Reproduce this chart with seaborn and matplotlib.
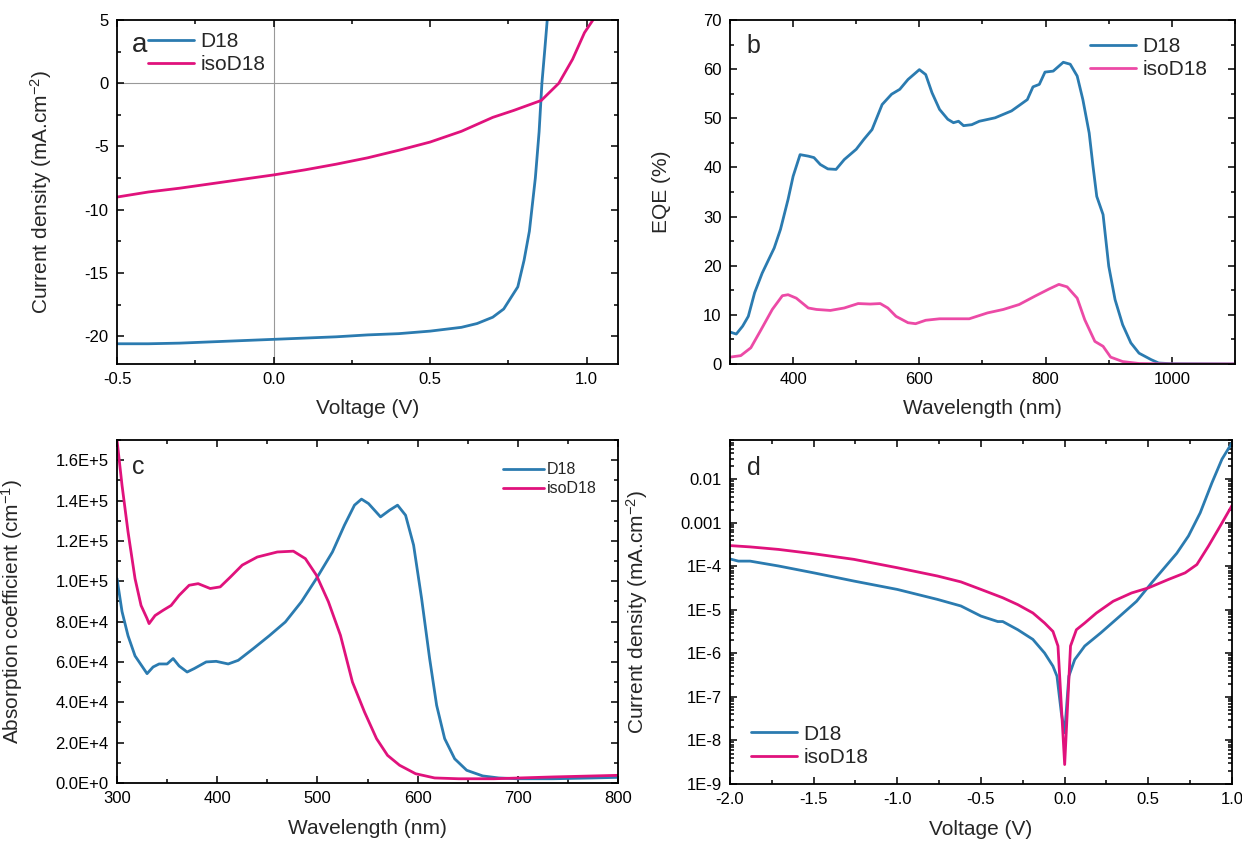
import numpy as np
import pandas as pd
import seaborn as sns
import matplotlib
matplotlib.use("Agg")
import matplotlib.pyplot as plt
from matplotlib.ticker import MultipleLocator, FuncFormatter, LogLocator, NullFormatter

# ── Data ─────────────────────────────────────────────────────────────────────
# a: J-V curves
jv_v_d18 = [-0.5, -0.4, -0.3, -0.2, -0.1, 0.0, 0.1, 0.2, 0.3, 0.4, 0.5, 0.6, 0.65,
            0.7, 0.735, 0.78, 0.8, 0.817, 0.836, 0.848, 0.857, 0.866, 0.874]
jv_j_d18 = [-20.6, -20.6, -20.55, -20.45, -20.35, -20.25, -20.15, -20.05, -19.9,
            -19.8, -19.6, -19.3, -19.0, -18.5, -17.85, -16.1, -14.0, -11.7, -7.5,
            -3.85, 0.0, 2.6, 5.0]
jv_v_iso = [-0.5, -0.4, -0.3, -0.2, -0.1, 0.0, 0.1, 0.2, 0.3, 0.4, 0.5, 0.6, 0.7,
            0.767, 0.855, 0.911, 0.955, 0.993, 1.02]
jv_j_iso = [-9.0, -8.6, -8.3, -7.95, -7.6, -7.25, -6.85, -6.4, -5.9, -5.3, -4.65,
            -3.8, -2.7, -2.15, -1.36, 0.0, 1.9, 4.0, 5.0]

# b: EQE spectra
eqe_nm_d18 = [300, 310, 320, 329, 339, 351, 370, 380, 392, 400, 411, 424, 433, 443,
              455, 468, 481, 500, 512, 525, 541, 556, 569, 582, 600, 610, 620, 632,
              645, 654, 662, 670, 683, 695, 720, 746, 758, 771, 780, 790, 799, 812,
              828, 839, 850, 859, 869, 875, 881, 891, 900, 910, 922, 935, 948, 967,
              979, 1000, 1100]
eqe_d18 = [6.5, 6.1, 7.7, 9.7, 14.5, 18.5, 23.6, 27.4, 33.5, 38.2, 42.6, 42.3, 42.0,
           40.6, 39.7, 39.6, 41.6, 43.7, 45.7, 47.7, 52.8, 54.9, 55.9, 57.9, 59.9,
           58.9, 55.2, 51.8, 49.8, 49.1, 49.4, 48.5, 48.7, 49.4, 50.1, 51.5, 52.6,
           53.8, 56.4, 56.9, 59.4, 59.6, 61.4, 61.0, 58.6, 53.8, 47.0, 40.3, 34.1,
           30.4, 19.9, 13.1, 8.0, 4.3, 2.2, 0.9, 0.2, 0.05, 0.0]
eqe_nm_iso = [300, 317, 333, 348, 367, 383, 392, 405, 424, 437, 459, 481, 503, 522,
              538, 550, 563, 582, 594, 610, 632, 657, 679, 708, 733, 758, 783, 806,
              821, 834, 850, 862, 878, 891, 903, 922, 948, 1000, 1100]
eqe_iso = [1.4, 1.7, 3.3, 6.7, 11.1, 13.9, 14.1, 13.4, 11.4, 11.1, 10.9, 11.4, 12.3,
           12.2, 12.3, 11.4, 9.7, 8.4, 8.2, 8.9, 9.2, 9.2, 9.2, 10.4, 11.1, 12.1, 13.8,
           15.3, 16.2, 15.7, 13.4, 9.0, 4.6, 3.6, 1.4, 0.5, 0.1, 0.0, 0.0]

# c: absorption coefficient (cm-1), in units of 1E+4
abs_nm_d18 = [300, 305, 311, 318, 330, 336, 342, 350, 356, 362, 370, 377, 389, 399,
              411, 421, 436, 452, 468, 484, 499, 515, 527, 537, 544, 551, 563, 572,
              580, 588, 596, 604, 612, 619, 627, 637, 649, 665, 681, 700, 735, 775, 800]
abs_d18 = [10.13, 8.5, 7.3, 6.3, 5.42, 5.75, 5.9, 5.9, 6.17, 5.8, 5.5, 5.67, 6.0,
           6.03, 5.9, 6.08, 6.66, 7.3, 7.98, 8.98, 10.13, 11.45, 12.78, 13.77, 14.07,
           13.85, 13.19, 13.52, 13.77, 13.27, 11.79, 9.14, 6.17, 3.85, 2.2, 1.2, 0.63,
           0.35, 0.25, 0.21, 0.21, 0.25, 0.28]
abs_nm_iso = [300, 305, 311, 318, 324, 330, 332, 338, 346, 354, 362, 372, 381, 393,
              403, 413, 425, 440, 460, 476, 488, 499, 511, 523, 535, 547, 559, 570,
              582, 598, 617, 641, 676, 735, 800]
abs_iso = [17.0, 14.76, 12.45, 10.13, 8.8, 8.15, 7.9, 8.3, 8.56, 8.8, 9.3, 9.8, 9.88,
           9.64, 9.72, 10.2, 10.8, 11.2, 11.45, 11.49, 11.12, 10.3, 8.98, 7.32, 5.0,
           3.52, 2.2, 1.37, 0.88, 0.46, 0.25, 0.21, 0.21, 0.3, 0.38]
abs_scale = 1e4

# d: dark J-V, |J| in mA.cm-2
dark_v_d18 = [-2.0, -1.95, -1.88, -1.71, -1.5, -1.26, -1.0, -0.76, -0.62, -0.5, -0.4,
              -0.37, -0.28, -0.19, -0.12, -0.07, -0.046, -0.02, 0.0, 0.025, 0.06, 0.12,
              0.215, 0.33, 0.43, 0.52, 0.67, 0.74, 0.81, 0.88, 0.94, 1.0]
dark_j_d18 = [1.48e-4, 1.32e-4, 1.32e-4, 1.02e-4, 7.1e-5, 4.6e-5, 2.95e-5, 1.74e-5,
              1.23e-5, 7.2e-6, 5.4e-6, 5.4e-6, 3.5e-6, 2.1e-6, 1.02e-6, 5.1e-7, 3.0e-7,
              4.3e-8, 1.5e-8, 3.0e-7, 7.2e-7, 1.48e-6, 2.95e-6, 7.2e-6, 1.58e-5, 4.2e-5,
              2.0e-4, 5.0e-4, 1.7e-3, 8.3e-3, 2.9e-2, 6.9e-2]
dark_v_iso = [-2.0, -1.88, -1.71, -1.5, -1.26, -1.0, -0.76, -0.62, -0.5, -0.37, -0.28,
              -0.19, -0.12, -0.07, -0.04, 0.0, 0.035, 0.07, 0.12, 0.19, 0.29, 0.4, 0.5,
              0.62, 0.72, 0.79, 0.86, 0.93, 1.0]
dark_j_iso = [3.0e-4, 2.8e-4, 2.45e-4, 1.95e-4, 1.45e-4, 9.3e-5, 6.0e-5, 4.4e-5,
              2.95e-5, 1.9e-5, 1.32e-5, 8.5e-6, 5.0e-6, 3.2e-6, 1.48e-6, 2.8e-9,
              1.48e-6, 3.5e-6, 5.0e-6, 8.5e-6, 1.58e-5, 2.45e-5, 3.2e-5, 5.0e-5, 7.1e-5,
              1.1e-4, 2.95e-4, 8.5e-4, 2.5e-3]

# ── Style ────────────────────────────────────────────────────────────────────
sns.set_theme(style="ticks")
plt.rcParams["font.family"] = ["Liberation Sans", "DejaVu Sans"]
plt.rcParams["mathtext.fontset"] = "custom"
plt.rcParams["mathtext.rm"] = "Liberation Sans"
plt.rcParams["mathtext.it"] = "Liberation Sans"
plt.rcParams["axes.unicode_minus"] = False

BLUE = "#2b7bb0"
MAGENTA = "#e0127c"
PINK = "#ec4aa6"
LW = 2.0

fig = plt.figure(figsize=(12.42, 8.41), dpi=100)
W, H = 1242, 841


def make_ax(left, top, right, bottom):
    return fig.add_axes([left / W, 1 - bottom / H, (right - left) / W, (bottom - top) / H])


def style_ax(ax):
    for s in ax.spines.values():
        s.set_color("black")
        s.set_linewidth(1.3)
    ax.tick_params(which="both", direction="in", top=True, right=True,
                   colors="black", labelsize=12, width=1.1)
    ax.tick_params(which="major", length=5, pad=6)
    ax.tick_params(which="minor", length=2.6)
    ax.grid(False)


def draw(ax, x, y, color, label):
    sns.lineplot(x=x, y=y, ax=ax, color=color, label=label, linewidth=LW,
                 estimator=None, sort=False)


ax_a = make_ax(117, 20, 618, 364)
ax_b = make_ax(730, 20, 1235, 364)
ax_c = make_ax(117, 440, 618, 783)
ax_d = make_ax(730, 440, 1232, 784)

# ── a ───────────────────────────────────────────────────────────────────────
ax_a.axhline(0, color="#999999", lw=0.8, zorder=0)
ax_a.axvline(0, color="#999999", lw=0.8, zorder=0)
draw(ax_a, jv_v_d18, jv_j_d18, BLUE, "D18")
draw(ax_a, jv_v_iso, jv_j_iso, MAGENTA, "isoD18")
ax_a.set_xlim(-0.5, 1.1)
ax_a.set_ylim(-22.2, 5)
ax_a.xaxis.set_major_locator(MultipleLocator(0.5))
ax_a.xaxis.set_minor_locator(MultipleLocator(0.25))
ax_a.yaxis.set_major_locator(MultipleLocator(5))
ax_a.yaxis.set_minor_locator(MultipleLocator(2.5))
ax_a.xaxis.set_major_formatter(FuncFormatter(lambda v, p: f"{v:.1f}"))
ax_a.set_xlabel("Voltage (V)", fontsize=15)
ax_a.set_ylabel(r"Current density (mA.cm$^{-2}$)", fontsize=15)
ax_a.legend(loc="upper left", bbox_to_anchor=(0.062, 0.965), frameon=False,
            fontsize=15, handlelength=2.2, handletextpad=0.3, borderpad=0,
            borderaxespad=0, labelspacing=0.2)
ax_a.text(0.03, 0.928, "a", transform=ax_a.transAxes, fontsize=20, va="center", ha="left")

# ── b ───────────────────────────────────────────────────────────────────────
draw(ax_b, eqe_nm_d18, eqe_d18, BLUE, "D18")
draw(ax_b, eqe_nm_iso, eqe_iso, PINK, "isoD18")
ax_b.set_xlim(300, 1100)
ax_b.set_ylim(0, 70)
ax_b.xaxis.set_major_locator(MultipleLocator(200))
ax_b.xaxis.set_minor_locator(MultipleLocator(100))
ax_b.yaxis.set_major_locator(MultipleLocator(10))
ax_b.yaxis.set_minor_locator(MultipleLocator(5))
ax_b.set_xlabel("Wavelength (nm)", fontsize=15)
ax_b.set_ylabel("EQE (%)", fontsize=15)
ax_b.legend(loc="upper left", bbox_to_anchor=(0.713, 0.95), frameon=False,
            fontsize=15, handlelength=2.2, handletextpad=0.3, borderpad=0,
            borderaxespad=0, labelspacing=0.2)
ax_b.text(0.033, 0.925, "b", transform=ax_b.transAxes, fontsize=18, va="center", ha="left")

# ── c ───────────────────────────────────────────────────────────────────────
draw(ax_c, abs_nm_d18, np.array(abs_d18) * abs_scale, BLUE, "D18")
draw(ax_c, abs_nm_iso, np.array(abs_iso) * abs_scale, MAGENTA, "isoD18")
ax_c.set_xlim(300, 800)
ax_c.set_ylim(0, 1.70e5)
ax_c.xaxis.set_major_locator(MultipleLocator(100))
ax_c.xaxis.set_minor_locator(MultipleLocator(50))
ax_c.yaxis.set_major_locator(MultipleLocator(2e4))
ax_c.yaxis.set_minor_locator(MultipleLocator(1e4))


def sci_fmt(v, pos):
    if v == 0:
        return "0.0E+0"
    e = int(np.floor(np.log10(abs(v)) + 1e-9))
    return f"{v / 10 ** e:.1f}E+{e}"


ax_c.yaxis.set_major_formatter(FuncFormatter(sci_fmt))
ax_c.set_xlabel("Wavelength (nm)", fontsize=15)
ax_c.set_ylabel(r"Absorption coefficient (cm$^{-1}$)", fontsize=15)
ax_c.legend(loc="upper left", bbox_to_anchor=(0.77, 0.935), frameon=False,
            fontsize=11.5, handlelength=2.6, handletextpad=0.15, borderpad=0,
            borderaxespad=0, labelspacing=0.25)
ax_c.text(0.03, 0.92, "c", transform=ax_c.transAxes, fontsize=18, va="center", ha="left")

# ── d ───────────────────────────────────────────────────────────────────────
draw(ax_d, dark_v_d18, dark_j_d18, BLUE, "D18")
draw(ax_d, dark_v_iso, dark_j_iso, MAGENTA, "isoD18")
ax_d.set_yscale("log")
ax_d.set_xlim(-2.0, 1.0)
ax_d.set_ylim(1e-9, 0.08)
ax_d.xaxis.set_major_locator(MultipleLocator(0.5))
ax_d.xaxis.set_minor_locator(MultipleLocator(0.25))
ax_d.xaxis.set_major_formatter(FuncFormatter(lambda v, p: f"{v:.1f}"))
log_ticks = [1e-9, 1e-8, 1e-7, 1e-6, 1e-5, 1e-4, 1e-3, 1e-2]
log_labels = ["1E-9", "1E-8", "1E-7", "1E-6", "1E-5", "1E-4", "0.001", "0.01"]
ax_d.set_yticks(log_ticks, log_labels)
ax_d.yaxis.set_minor_locator(LogLocator(base=10, subs=np.arange(2, 10), numticks=20))
ax_d.yaxis.set_minor_formatter(NullFormatter())
ax_d.set_xlabel("Voltage (V)", fontsize=15)
ax_d.set_ylabel(r"Current density (mA.cm$^{-2}$)", fontsize=15)
ax_d.legend(loc="lower left", bbox_to_anchor=(0.042, 0.05), frameon=False,
            fontsize=15, handlelength=2.2, handletextpad=0.3, borderpad=0,
            borderaxespad=0, labelspacing=0.2)
ax_d.text(0.033, 0.92, "d", transform=ax_d.transAxes, fontsize=18, va="center", ha="left")

for ax in (ax_a, ax_b, ax_c, ax_d):
    style_ax(ax)

ax_a.yaxis.set_label_coords(-0.126, 0.5)
ax_b.yaxis.set_label_coords(-0.116, 0.5)
ax_c.yaxis.set_label_coords(-0.184, 0.5)
ax_d.yaxis.set_label_coords(-0.159, 0.5)
for ax in (ax_a, ax_b):
    ax.xaxis.set_label_coords(0.5, -0.102)
for ax in (ax_c, ax_d):
    ax.xaxis.set_label_coords(0.5, -0.104)

fig.savefig("out.png", dpi=100)
